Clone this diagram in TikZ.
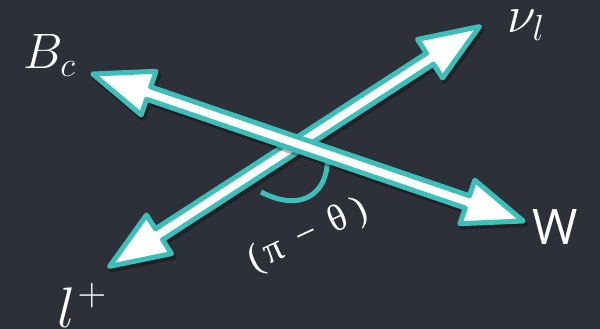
\documentclass[tikz,border=0pt]{standalone}
\usepackage{fontspec}
\newfontfamily\labsans{Open Sans}
\newfontfamily\labserif{Liberation Serif}
\usetikzlibrary{calc}
\DeclareMathSizes{24.88}{24.88}{17.28}{12}
\definecolor{bgc}{RGB}{45,48,57}
\definecolor{tealc}{RGB}{59,191,184}
\newcommand\dblarrowpath[2]{(#1) -- ($(#1)!63.3pt!21.3:(#2)$) -- ($(#1)!59.36pt!6.29:(#2)$) -- ($(#2)!59.36pt!-6.29:(#1)$) -- ($(#2)!63.3pt!-21.3:(#1)$) -- (#2) -- ($(#2)!63.3pt!21.3:(#1)$) -- ($(#2)!59.36pt!6.29:(#1)$) -- ($(#1)!59.36pt!-6.29:(#2)$) -- ($(#1)!63.3pt!-21.3:(#2)$) -- cycle}
\newcommand\fsz[1]{\fontsize{#1}{#1}\selectfont}
\tikzset{
  arrowbody/.style={fill=white, draw=tealc, line width=5pt, line join=round},
  arrowshadow/.style={fill=black, draw=black, line width=6pt, line join=round, transform canvas={shift={(2,3)}}},
  lab/.style={text=white, inner sep=0pt, font=\fontsize{24.88}{28}\selectfont, anchor=base west},
  anglearc/.style={draw=tealc, line width=5pt},
}
\begin{document}
\begin{tikzpicture}[x=1pt, y=-1pt]
\fill[bgc] (0,0) rectangle (600,329);
\useasboundingbox (0,0) rectangle (600,329);
% arrow end points
\coordinate (a1) at (92.8,74);
\coordinate (a2) at (523.2,221);
\coordinate (b1) at (109.5,266.4);
\coordinate (b2) at (479.5,26.6);
\coordinate (arcS) at (327,152);
\coordinate (arcE) at (261,192);
% angle arc
\draw[anglearc] (arcS) .. controls (331,192) and (303,214) .. (arcE);
% arrow l+ -- nu
\begin{scope}[transparency group, opacity=0.3]
\path[arrowshadow] \dblarrowpath{b1}{b2};
\end{scope}
\path[arrowbody] \dblarrowpath{b1}{b2};
% arrow Bc -- W
\begin{scope}[transparency group, opacity=0.3]
\path[arrowshadow] \dblarrowpath{a1}{a2};
\end{scope}
\path[arrowbody] \dblarrowpath{a1}{a2};
% labels
\node[lab, scale=2.0] (bc) at (23,69) {$B_c$};
\node[lab, scale=2.1] (nu) at (507,33) {$\nu_l$};
\node[text=white, inner sep=0pt, anchor=base west, font=\labsans\fsz{49}] (w) at (532,244) {W};
\node[lab, scale=2.3] (lp) at (57,327) {$l$\kern1pt\raisebox{9.2pt}{$\scriptstyle +$}};
\node[text=white, inner sep=0pt, rotate=25, font=\labserif\fsz{38}] (ang) at (308,236) {(\kern4pt π\kern16pt −\kern15pt θ\kern8pt)};
\end{tikzpicture}
\end{document}
